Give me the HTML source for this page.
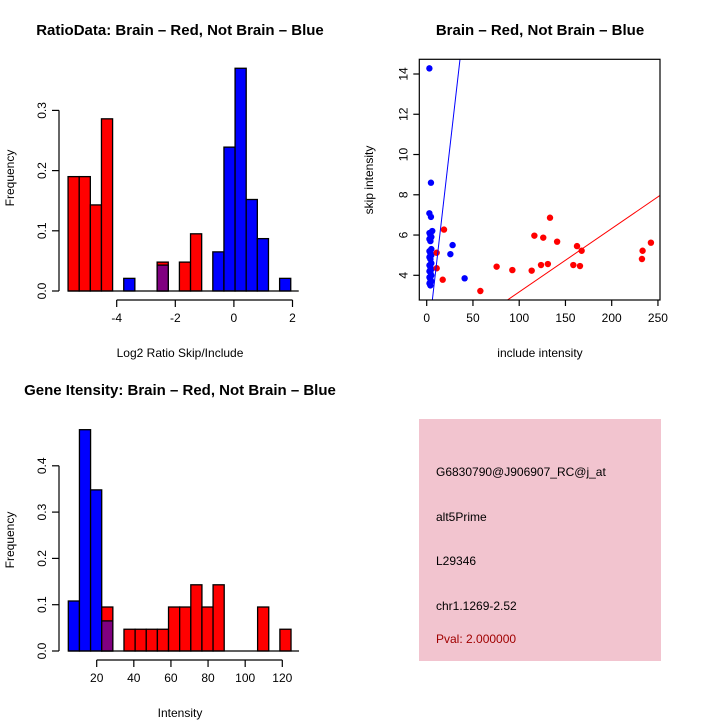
<!DOCTYPE html>
<html><head><meta charset="utf-8">
<style>
html,body{margin:0;padding:0;background:#fff;}
svg{display:block;font-family:"Liberation Sans",sans-serif;}
</style></head>
<body>
<svg id="c" width="720" height="720" viewBox="0 0 720 720">
<rect x="0" y="0" width="720" height="720" fill="#fff"/>
<text x="180" y="35" font-size="15" font-weight="bold" text-anchor="middle">RatioData: Brain – Red, Not Brain – Blue</text>
<text x="540" y="35" font-size="15" font-weight="bold" text-anchor="middle">Brain – Red, Not Brain – Blue</text>
<text x="180" y="395" font-size="15" font-weight="bold" text-anchor="middle">Gene Itensity: Brain – Red, Not Brain – Blue</text>
<text x="180" y="357" font-size="12" text-anchor="middle">Log2 Ratio Skip/Include</text>
<text transform="translate(14,178) rotate(-90)" font-size="12" text-anchor="middle">Frequency</text>
<text x="540" y="357" font-size="12" text-anchor="middle">include intensity</text>
<text transform="translate(373,180) rotate(-90)" font-size="12" text-anchor="middle">skip intensity</text>
<text x="180" y="717" font-size="12" text-anchor="middle">Intensity</text>
<text transform="translate(14,540) rotate(-90)" font-size="12" text-anchor="middle">Frequency</text>
<g>
<rect x="419" y="419" width="242" height="242" fill="#f2c4cf"/>
<text x="436" y="476" font-size="12">G6830790@J906907_RC@j_at</text>
<text x="436" y="521" font-size="12">alt5Prime</text>
<text x="436" y="565" font-size="12">L29346</text>
<text x="436" y="610" font-size="12">chr1.1269-2.52</text>
<text x="436" y="643" font-size="12" fill="#a00000">Pval: 2.000000</text>
</g>
<g id="plots"></g>
</svg>
<script>
// Ratio histogram data
const ratioBinStart = -5.66, ratioBinWidth = 0.38;
const ratioRed  = [0.19,0.19,0.143,0.286,0,0,0,0,0.048,0,0.048,0.095,0,0,0,0,0,0,0,0];
const ratioBlue = [0,0,0,0,0,0.021,0,0,0.043,0,0,0,0,0.065,0.239,0.37,0.152,0.087,0,0.021];
const ratioXTicks = [-4,-2,0,2];
const ratioYTicks = [0.0,0.1,0.2,0.3];
const ratioYLabels = ["0.0","0.1","0.2","0.3"];
// Intensity histogram data
const intBinStart = 4.7, intBinWidth = 6.0;
const intRed  = [0,0,0,0.095,0,0.047,0.047,0.047,0.047,0.095,0.095,0.143,0.095,0.143,0,0,0,0.095,0,0.047];
const intBlue = [0.108,0.478,0.348,0.065,0,0,0,0,0,0,0,0,0,0,0,0,0,0,0,0];
const intXTicks = [20,40,60,80,100,120];
const intYTicks = [0.0,0.1,0.2,0.3,0.4];
const intYLabels = ["0.0","0.1","0.2","0.3","0.4"];
// Scatter data
const blueX = [2.9,4.6,2.9,4.6,6,3,4,5,3,4,5,3,4,5,3,4,5,3,4,5,3,4,5,3,4,5,3,4,28,25.6,41];
const blueY = [14.28,8.6,7.08,6.9,6.2,6.1,6.0,5.9,5.8,5.7,5.3,5.2,5.1,5.0,4.9,4.8,4.6,4.5,4.4,4.3,4.2,4.15,4.0,3.9,3.8,3.7,3.6,3.5,5.5,5.05,3.85];
const redX = [18.7,10.8,10.8,17.3,58,75.6,92.6,113.5,116.4,126,123.6,131,133.3,141,158.5,162.5,165.7,167.5,232.7,233.4,242.4];
const redY = [6.27,5.12,4.35,3.78,3.22,4.43,4.26,4.23,5.97,5.87,4.51,4.56,6.86,5.67,4.51,5.45,4.46,5.22,4.81,5.22,5.62];
const redLine = [0.023,0.0315];
const blueLine = [0.33,0.40];
const scXTicks = [0,50,100,150,200,250];
const scYTicks = [4,6,8,10,12,14];

const NS="http://www.w3.org/2000/svg";
const root=document.getElementById('plots');
function mk(tag,attrs,parent){const e=document.createElementNS(NS,tag);for(const k in attrs)e.setAttribute(k,attrs[k]);(parent||root).appendChild(e);return e;}

function hist(prefix, g, x0, xs, y0, ys, start, w, red, blue, xt, xtLabels, yt, ytLabels, axisY, xAxisY){
  const X=v=>x0+(v-xt[0])*xs, Y=v=>y0-v*ys;
  const n=red.length;
  for(let i=0;i<n;i++){
    const l=X(start+i*w), r=X(start+(i+1)*w);
    const rv=red[i], bv=blue[i];
    const hi=Math.max(rv,bv), lo=Math.min(rv,bv);
    if(hi<=0) continue;
    const topCol = rv>=bv ? 'red' : 'blue';
    const b=mk('rect',{x:l,y:Y(hi),width:r-l,height:Y(0)-Y(hi),fill:topCol,stroke:'#000','stroke-width':1.3},g);
    
    
    if(lo>0){
      const p=mk('rect',{x:l,y:Y(lo),width:r-l,height:Y(0)-Y(lo),fill:'#800080',stroke:'#000','stroke-width':1.3},g);
      
      
    }
  }
  const ya=mk('g',{},g);
  
  
  mk('line',{x1:axisY,x2:axisY,y1:Y(yt[0]),y2:Y(yt[yt.length-1]),stroke:'#000','stroke-width':1.2},ya);
  yt.forEach((v,i)=>{
    mk('line',{x1:axisY-7,x2:axisY,y1:Y(v),y2:Y(v),stroke:'#000','stroke-width':1.2},ya);
    const t=mk('text',{transform:`translate(${axisY-13},${Y(v)}) rotate(-90)`,'font-size':12,'text-anchor':'middle'},ya);
    t.textContent=ytLabels[i];
    
    
  });
  mk('line',{x1:X(start),x2:X(start+n*w)+8,y1:Y(0),y2:Y(0),stroke:'#000','stroke-width':1.2},g);
  const xa=mk('g',{},g);
  
  
  mk('line',{x1:X(xt[0]),x2:X(xt[xt.length-1]),y1:xAxisY,y2:xAxisY,stroke:'#000','stroke-width':1.2},xa);
  xt.forEach((v,i)=>{
    mk('line',{x1:X(v),x2:X(v),y1:xAxisY,y2:xAxisY+7,stroke:'#000','stroke-width':1.2},xa);
    const t=mk('text',{x:X(v),y:xAxisY+22,'font-size':12,'text-anchor':'middle'},xa);
    t.textContent=xtLabels[i];
    
    
  });
}

const g1=mk('g',{});


hist('ratio',g1,116.7,29.3,291,602,ratioBinStart,ratioBinWidth,ratioRed,ratioBlue,ratioXTicks,ratioXTicks.map(String),ratioYTicks,ratioYLabels,59,300);

const g3=mk('g',{});


hist('intensity',g3,96.7,1.856,651,463,intBinStart,intBinWidth,intRed,intBlue,intXTicks,intXTicks.map(String),intYTicks,intYLabels,59,660);

const g2=mk('g',{});


const L=419.3,R=660,T=59.3,B=300;
const sx=v=>426.7+v*0.925, sy=v=>275.3-(v-4)*20.13;
const cp=mk('clipPath',{id:'scclip'},g2);
mk('rect',{x:L,y:T,width:R-L,height:B-T},cp);
const pg=mk('g',{'clip-path':'url(#scclip)'},g2);
function line(coef,col,name){
  const x1=-8,x2=252;
  const l=mk('line',{x1:sx(x1),y1:sy(coef[0]+coef[1]*x1),x2:sx(x2),y2:sy(coef[0]+coef[1]*x2),stroke:col,'stroke-width':1},pg);
  
  
}
blueX.forEach((v,i)=>{
  const c=mk('circle',{cx:sx(v),cy:sy(blueY[i]),r:3.2,fill:'blue'},pg);
  
  
});
redX.forEach((v,i)=>{
  const c=mk('circle',{cx:sx(v),cy:sy(redY[i]),r:3.2,fill:'red'},pg);
  
  
});
line(blueLine,'blue','blue-regression-line');
line(redLine,'red','red-regression-line');
mk('rect',{x:L,y:T,width:R-L,height:B-T,fill:'none',stroke:'#000','stroke-width':1.2},g2);
const sxa=mk('g',{},g2);


scXTicks.forEach(v=>{
  mk('line',{x1:sx(v),x2:sx(v),y1:B,y2:B+6,stroke:'#000','stroke-width':1.2},sxa);
  const t=mk('text',{x:sx(v),y:B+22,'font-size':12,'text-anchor':'middle'},sxa);
  t.textContent=String(v);
  
  
});
const sya=mk('g',{},g2);


scYTicks.forEach(v=>{
  mk('line',{x1:L-6,x2:L,y1:sy(v),y2:sy(v),stroke:'#000','stroke-width':1.2},sya);
  const t=mk('text',{transform:`translate(${L-12},${sy(v)}) rotate(-90)`,'font-size':12,'text-anchor':'middle'},sya);
  t.textContent=String(v);
  
  
});
</script>
</body></html>
